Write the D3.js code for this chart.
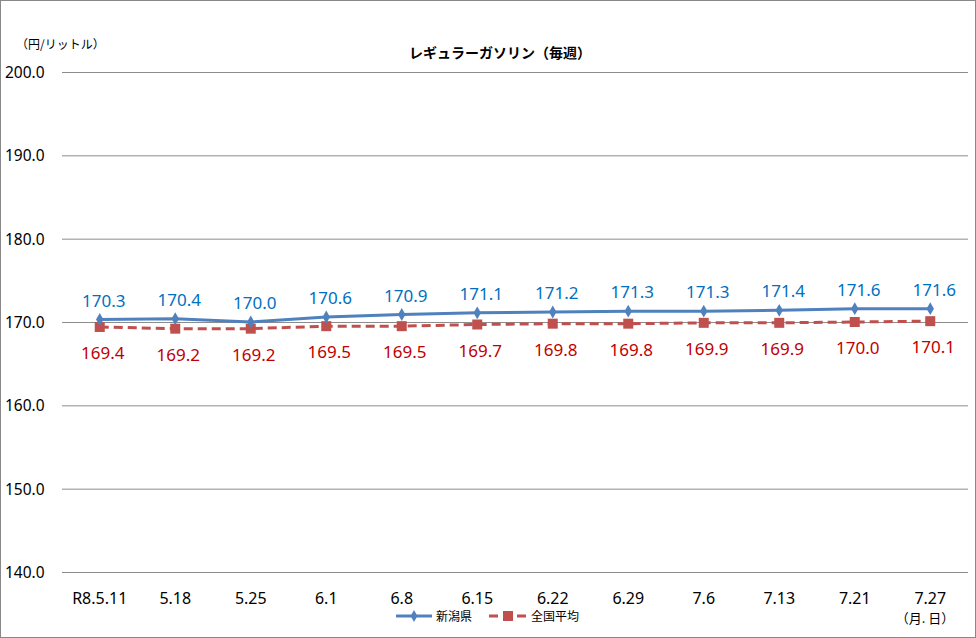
<!DOCTYPE html>
<meta charset="utf-8">
<style>
  body { margin: 0; background: #fff; }
  text { font-family: "Noto Sans", "Noto Sans CJK JP", sans-serif; }
  .jp { font-family: "Noto Sans CJK JP", sans-serif; }
</style>
<svg width="976" height="638"></svg>
<script src="https://d3js.org/d3.v7.min.js"></script>
<script>
var dates = ["R8.5.11", "5.18", "5.25", "6.1", "6.8", "6.15", "6.22", "6.29", "7.6", "7.13", "7.21", "7.27"]
var niigata = [170.3, 170.4, 170.0, 170.6, 170.9, 171.1, 171.2, 171.3, 171.3, 171.4, 171.6, 171.6]
var national = [169.4, 169.2, 169.2, 169.5, 169.5, 169.7, 169.8, 169.8, 169.9, 169.9, 170.0, 170.1]
var yTicks = [140, 150, 160, 170, 180, 190, 200]

var svg = d3.select('svg')

// outer frame
svg.append('rect')
  .attr('x', 0.5).attr('y', 0.5)
  .attr('width', 975).attr('height', 637)
  .attr('fill', 'none').attr('stroke', '#888')

var x = d3.scaleBand().domain(dates).range([62, 968])
var y = d3.scaleLinear().domain([140, 200]).range([572, 72])
var cx = function (d, i) { return x(dates[i]) + x.bandwidth() / 2 }

// gridlines
svg.append('g').selectAll('line')
  .data(yTicks)
  .enter().append('line')
    .attr('x1', 62).attr('x2', 968)
    .attr('y1', function (d) { return y(d) + 0.5 })
    .attr('y2', function (d) { return y(d) + 0.5 })
    .attr('stroke', '#8c8c8c').attr('stroke-width', 1)

// y labels
svg.append('g').selectAll('text')
  .data(yTicks)
  .enter().append('text')
    .attr('x', 5)
    .attr('y', function (d) { return y(d) + 6 })
    .attr('font-size', 15.5)
    .attr('fill', '#000')
    .text(function (d) { return d.toFixed(1) })

// x labels
svg.append('g').selectAll('text')
  .data(dates)
  .enter().append('text')
    .attr('x', function (d) { return x(d) + x.bandwidth() / 2 })
    .attr('y', 604)
    .attr('text-anchor', 'middle')
    .attr('font-size', 16)
    .text(function (d) { return d })

var line = d3.line()
  .x(cx)
  .y(function (d) { return y(d) })

// national average (dashed red)
svg.append('path')
  .datum(national)
  .attr('d', line)
  .attr('fill', 'none')
  .attr('stroke', '#c0504d')
  .attr('stroke-width', 3)
  .attr('stroke-dasharray', '9,5')
svg.append('g').selectAll('rect')
  .data(national)
  .enter().append('rect')
    .attr('x', function (d, i) { return cx(d, i) - 5 })
    .attr('y', function (d) { return y(d) - 5 })
    .attr('width', 10).attr('height', 10)
    .attr('fill', '#c0504d')

// niigata (blue)
svg.append('path')
  .datum(niigata)
  .attr('d', line)
  .attr('fill', 'none')
  .attr('stroke', '#4f81bd')
  .attr('stroke-width', 3)
svg.append('g').selectAll('path')
  .data(niigata)
  .enter().append('path')
    .attr('d', d3.symbol().type(d3.symbolDiamond).size(48))
    .attr('transform', function (d, i) { return 'translate(' + cx(d, i) + ',' + y(d) + ')' })
    .attr('fill', '#4f81bd')

// value labels
svg.append('g').selectAll('text')
  .data(niigata)
  .enter().append('text')
    .attr('x', function (d, i) { return cx(d, i) + 4 })
    .attr('y', function (d) { return y(d) - 13 })
    .attr('text-anchor', 'middle')
    .attr('font-size', 17)
    .attr('fill', '#0070c0')
    .text(function (d) { return d.toFixed(1) })
svg.append('g').selectAll('text')
  .data(national)
  .enter().append('text')
    .attr('x', function (d, i) { return cx(d, i) + 3 })
    .attr('y', function (d) { return y(d) + 32 })
    .attr('text-anchor', 'middle')
    .attr('font-size', 17)
    .attr('fill', '#c00000')
    .text(function (d) { return d.toFixed(1) })

// titles
svg.append('text')
  .attr('class', 'jp')
  .attr('x', 16).attr('y', 49)
  .attr('font-size', 12)
  .text('（円/リットル）')
svg.append('text')
  .attr('class', 'jp')
  .attr('x', 500).attr('y', 58)
  .attr('text-anchor', 'middle')
  .attr('font-size', 14)
  .attr('font-weight', 'bold')
  .text('レギュラーガソリン（毎週）')
svg.append('text')
  .attr('class', 'jp')
  .attr('x', 925).attr('y', 623)
  .attr('text-anchor', 'middle')
  .attr('font-size', 13)
  .text('（月. 日）')

// legend
var lg = svg.append('g')
lg.append('line')
  .attr('x1', 396).attr('x2', 432).attr('y1', 616).attr('y2', 616)
  .attr('stroke', '#4f81bd').attr('stroke-width', 3)
lg.append('path')
  .attr('d', d3.symbol().type(d3.symbolDiamond).size(40))
  .attr('transform', 'translate(414,616)')
  .attr('fill', '#4f81bd')
lg.append('text')
  .attr('class', 'jp')
  .attr('x', 436).attr('y', 621)
  .attr('font-size', 12)
  .text('新潟県')
lg.append('line')
  .attr('x1', 489).attr('x2', 527).attr('y1', 616).attr('y2', 616)
  .attr('stroke', '#c0504d').attr('stroke-width', 3)
  .attr('stroke-dasharray', '9,5')
lg.append('rect')
  .attr('x', 503).attr('y', 611).attr('width', 10).attr('height', 10)
  .attr('fill', '#c0504d')
lg.append('text')
  .attr('class', 'jp')
  .attr('x', 531).attr('y', 621)
  .attr('font-size', 12)
  .text('全国平均')
</script>
